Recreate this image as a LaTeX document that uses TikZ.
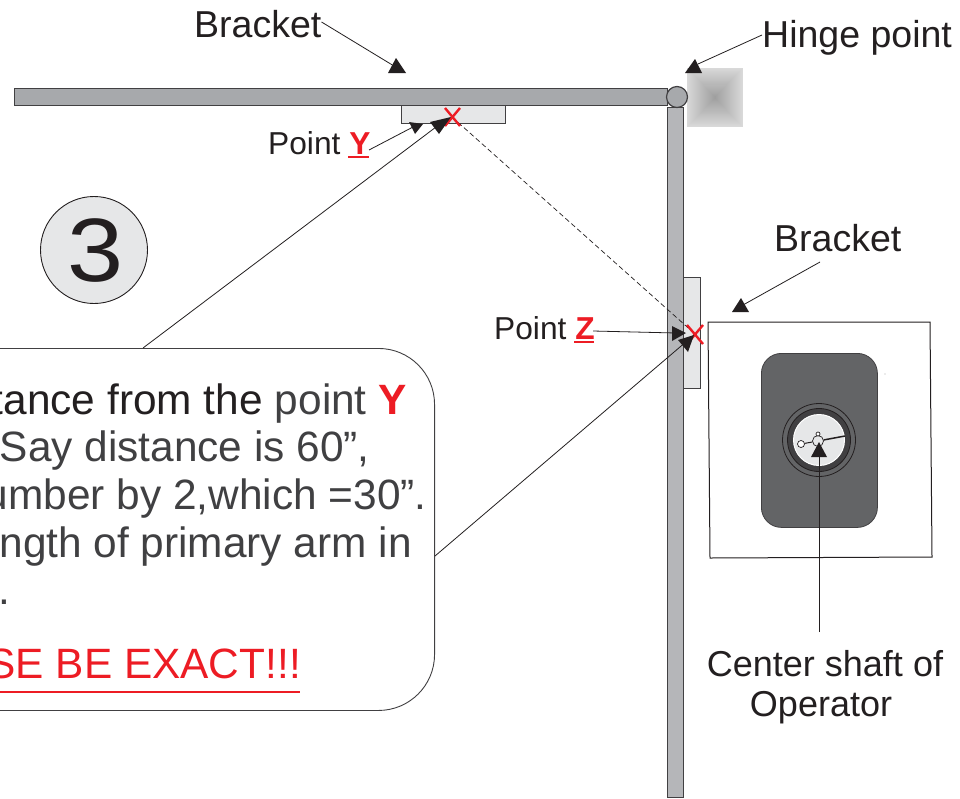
\documentclass[tikz,border=0pt]{standalone}
\usepackage{fontspec}
\setmainfont{Liberation Sans}
\definecolor{inkk}{HTML}{231F20}
\definecolor{greytxt}{HTML}{404042}
\definecolor{redd}{HTML}{ED1C24}
\definecolor{barh}{HTML}{A7A9AC}
\definecolor{barv}{HTML}{B5B6B9}
\definecolor{plate}{HTML}{E6E7E8}
\definecolor{darkbox}{HTML}{636466}
\definecolor{edgec}{HTML}{414042}
\tikzset{
  x=1pt,y=-1pt,
  part/.style={draw=edgec,line width=1.2pt},
  lbl/.style={inner sep=0pt,font=\fontsize{37.5}{37.5}\selectfont,text=inkk},
  lblb/.style={inner sep=0pt,font=\fontsize{36}{36}\selectfont,text=inkk},
  small/.style={inner sep=0pt,font=\fontsize{31.7}{31.7}\selectfont,text=inkk},
  para/.style={inner sep=0pt,anchor=base east,font=\fontsize{42.4}{42.4}\selectfont,text=greytxt},
  lead/.style={draw=inkk,line width=0.8pt},
  headtri/.style={fill=inkk},
  cross/.style={draw=redd,line width=2.4pt},
}
\begin{document}
\begin{tikzpicture}
\useasboundingbox (0,0) rectangle (960,798);
\clip (0,0) rectangle (960,798);
\fill[white] (0,0) rectangle (960,798);
% shaded square
\foreach \i in {0,...,28}{
  \pgfmathsetmacro{\t}{30+\i*46/28}
  \fill[gray!\t!white] (687+\i,68+\i*1.03) rectangle (743-\i,127-\i*1.03);
}
% bars
\node[part,fill=barv,minimum width=16pt,minimum height=690pt,inner sep=0pt,anchor=north west] (vbar) at (667,107) {};
\node[part,fill=barh,minimum width=653pt,minimum height=17pt,inner sep=0pt,anchor=north west] (hbar) at (14,88) {};
\node[part,fill=barh,circle,minimum size=21pt,inner sep=0pt] (hinge) at (677,97) {};
\node[part,fill=plate,minimum width=104pt,minimum height=18pt,inner sep=0pt,anchor=north west] (yplate) at (401,105) {};
\node[part,fill=plate,minimum width=17pt,minimum height=111pt,inner sep=0pt,anchor=north west] (zplate) at (683,277) {};
% operator
\draw[draw=inkk,line width=1pt] (708,322) -- (930,322) -- (932,557) -- (710,558) -- cycle;
\node[draw=edgec,line width=0.8pt,fill=darkbox,rounded corners=20pt,minimum width=116pt,minimum height=174pt,inner sep=0pt,anchor=north west] (opbox) at (761,353) {};
\node[draw=inkk,line width=0.8pt,fill=darkbox,circle,minimum size=73pt,inner sep=0pt] (ringa) at (819,440) {};
\node[draw=inkk,line width=0.8pt,fill=edgec,circle,minimum size=63pt,inner sep=0pt] (ringb) at (819,440) {};
\node[draw=white,line width=1pt,fill=plate,circle,minimum size=51pt,inner sep=0pt] (dial) at (819,440) {};
\node[draw=inkk,line width=0.7pt,fill=white,circle,minimum size=7pt,inner sep=0pt] (keyend) at (801,444) {};
\node[draw=inkk,line width=0.7pt,fill=plate,circle,minimum size=11pt,inner sep=0pt] (hub) at (818,441) {};
\node[draw=inkk,line width=0.7pt,fill=white,circle,minimum size=4pt,inner sep=0pt] (pin) at (818,434) {};
\coordinate (needle) at (845,436);
\draw[inkk,line width=1pt] (keyend) -- (hub);
\draw[inkk,line width=1.5pt] (hub) -- (needle);
\node[fill=inkk,circle,inner sep=0pt,minimum size=0.8pt] (dot) at (885,374) {};
% dashed
\coordinate (ptY) at (452,117);
\coordinate (ptZ) at (695,334);
\draw[inkk,line width=0.7pt,dash pattern=on 5pt off 3pt] (ptY) -- (ptZ);
\draw[cross] (445,108) -- (460,126) (460,108) -- (445,126);
\draw[cross] (687,325) -- (703,344) (703,325) -- (687,344);
% callout
\node[draw=edgec,line width=0.9pt,fill=white,rounded corners=56pt,minimum width=555pt,minimum height=362pt,inner sep=0pt,anchor=north east] (callout) at (435,348) {};
\coordinate (callY) at (143,348);
\coordinate (callZ) at (435,556);
\coordinate (hY) at (440,124);
\coordinate (hZ) at (687,341);
\draw[lead] (callY) -- (hY);
\draw[lead] (callZ) -- (hZ);
\fill[headtri] (430,122) -- (451,117) -- (439,134) -- cycle;
\fill[headtri] (678,340) -- (694,335) -- (688,352) -- cycle;
% circle 3
\node[draw=inkk,line width=0.9pt,fill=plate,circle,minimum size=107pt,inner sep=0pt] (three) at (94,250) {};
\node[inner sep=0pt,font=\fontsize{90}{90}\selectfont,text=inkk,xscale=1.12,transform shape] (digit) at (96,251) {3};
% para
\node[para,text=inkk] (l1a) at (263,414) {tance from the};
\node[para] (l1b) at (367,414) {point};
\node[para,text=redd,font=\fontsize{42.4}{42.4}\selectfont\bfseries] (l1c) at (407,414) {Y};
\node[para] (l2) at (370,461) {Say distance is 60”,};
\node[para] (l3) at (427,509) {umber by 2,which =30”.};
\node[para] (l4) at (412,557) {ngth of primary arm in};
\node[para] (l5) at (10,604) {.};
\node[para,text=redd] (l6) at (301,678) {SE BE EXACT!!!};
\draw[redd,line width=1.6pt] (0,692) -- (300,692);
% labels
\node[lbl,anchor=base west] (brk1) at (194,37) {Bracket};
\node[lbl,anchor=base west] (hingelbl) at (762,47) {Hinge point};
\node[lbl,anchor=base west] (brk2) at (774,251) {Bracket};
\node[small,anchor=base west] (ylbl) at (268,154) {Point \textbf{\textcolor{redd}{Y}}};
\node[small,anchor=base west] (zlbl) at (494,339) {Point \textbf{\textcolor{redd}{Z}}};
\draw[redd,line width=1.6pt] (348,157) -- (369,157) (574,342) -- (594,342);
\node[lblb,anchor=base] (shaft) at (825,676) {Center shaft of};
\node[lblb,anchor=base] (shaftb) at (821,716) {Operator};
% leaders
\coordinate (t1) at (394,66);
\coordinate (t2) at (698,64);
\coordinate (t3) at (743,305);
\draw[lead] (brk1.east |- 0,22) -- (t1);
\draw[lead] (hingelbl.west |- 0,35) -- (t2);
\draw[lead] (820,262) -- (t3);
\fill[headtri] (388,73) -- (396,58) -- (406,73) -- cycle;
\fill[headtri] (685,73) -- (695,59) -- (702,73) -- cycle;
\fill[headtri] (732,312) -- (741,298) -- (749,312) -- cycle;
\draw[lead] (369,150) -- (413,127);
\fill[headtri] (409,122) -- (423,124) -- (415,134) -- cycle;
\draw[lead] (593,331) -- (676,333);
\fill[headtri] (672,326) -- (686,333) -- (672,341) -- cycle;
\coordinate (shaftfoot) at (819,632);
\draw[lead] (shaftfoot) -- (819,450);
\fill[headtri] (811,457) -- (819,442) -- (827,457) -- cycle;
\end{tikzpicture}
\end{document}
